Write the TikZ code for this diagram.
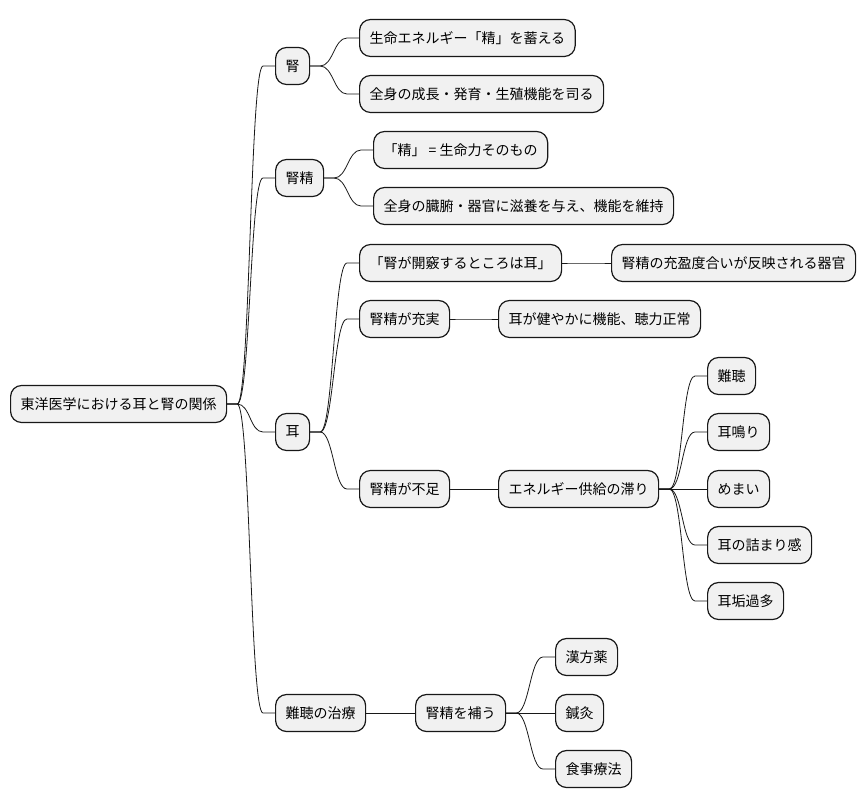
\documentclass[tikz,border=0pt]{standalone}
\usepackage{fontspec}
\newfontfamily\jpfont{Noto Sans CJK JP}
\usetikzlibrary{positioning}
\definecolor{mmFill}{HTML}{F1F1F1}
\definecolor{mmLine}{HTML}{181818}
\tikzset{
  topic/.style = {draw=mmLine, fill=mmFill, line width=1.2pt, rounded corners=11pt,
                  minimum height=37pt, inner xsep=10pt, inner ysep=0pt, anchor=west,
                  font=\jpfont\fontsize{14}{16}\selectfont, text=black},
  link/.style  = {draw=mmLine, line width=0.8pt},
}
\begin{document}
\begin{tikzpicture}[x=1pt, y=-1pt]
  \useasboundingbox (0,0) rectangle (866,809);
  % root and first level
  \node[topic] (root)    at (10,404)  {東洋医学における耳と腎の関係};
  \node[topic] (jin)     at (275,66)  {腎};
  \node[topic] (jinsei)  at (275,178) {腎精};
  \node[topic] (mimi)    at (275,432) {耳};
  \node[topic] (chiryo)  at (275,713) {難聴の治療};
  % 腎
  \node[topic] (jin1)    at (359,38)  {生命エネルギー「精」を蓄える};
  \node[topic] (jin2)    at (359,94)  {全身の成長・発育・生殖機能を司る};
  % 腎精
  \node[topic] (sei1)    at (373,150) {「精」 = 生命力そのもの};
  \node[topic] (sei2)    at (373,206) {全身の臓腑・器官に滋養を与え、機能を維持};
  % 耳
  \node[topic] (kaikyo)  at (359,263) {「腎が開竅するところは耳」};
  \node[topic] (hanei)   at (611,263) {腎精の充盈度合いが反映される器官};
  \node[topic] (juujitsu) at (359,319) {腎精が充実};
  \node[topic] (kenko)   at (498,319) {耳が健やかに機能、聴力正常};
  \node[topic] (fusoku)  at (359,489) {腎精が不足};
  \node[topic] (todokori) at (498,489) {エネルギー供給の滞り};
  \node[topic] (nancho)  at (707,376) {難聴};
  \node[topic] (miminari) at (707,432) {耳鳴り};
  \node[topic] (memai)   at (707,489) {めまい};
  \node[topic] (tsumari) at (707,545) {耳の詰まり感};
  \node[topic] (jiko)    at (707,601) {耳垢過多};
  % 難聴の治療
  \node[topic] (hojin)   at (415,713) {腎精を補う};
  \node[topic] (kanpo)   at (555,657) {漢方薬};
  \node[topic] (shinkyu) at (555,713) {鍼灸};
  \node[topic] (shokuji) at (555,769) {食事療法};
  % branches
  \foreach \p/\c in {root/jin, root/jinsei, root/mimi, root/chiryo,
                     jin/jin1, jin/jin2, jinsei/sei1, jinsei/sei2,
                     mimi/kaikyo, kaikyo/hanei, mimi/juujitsu, juujitsu/kenko,
                     mimi/fusoku, fusoku/todokori,
                     todokori/nancho, todokori/miminari, todokori/memai,
                     todokori/tsumari, todokori/jiko,
                     chiryo/hojin, hojin/kanpo, hojin/shinkyu, hojin/shokuji}
    \draw[link] (\p.east) -- ++(10,0)
      .. controls +(13,0) and +(-13,0) .. ([xshift=-12pt]\c.west) -- (\c.west);
\end{tikzpicture}
\end{document}
